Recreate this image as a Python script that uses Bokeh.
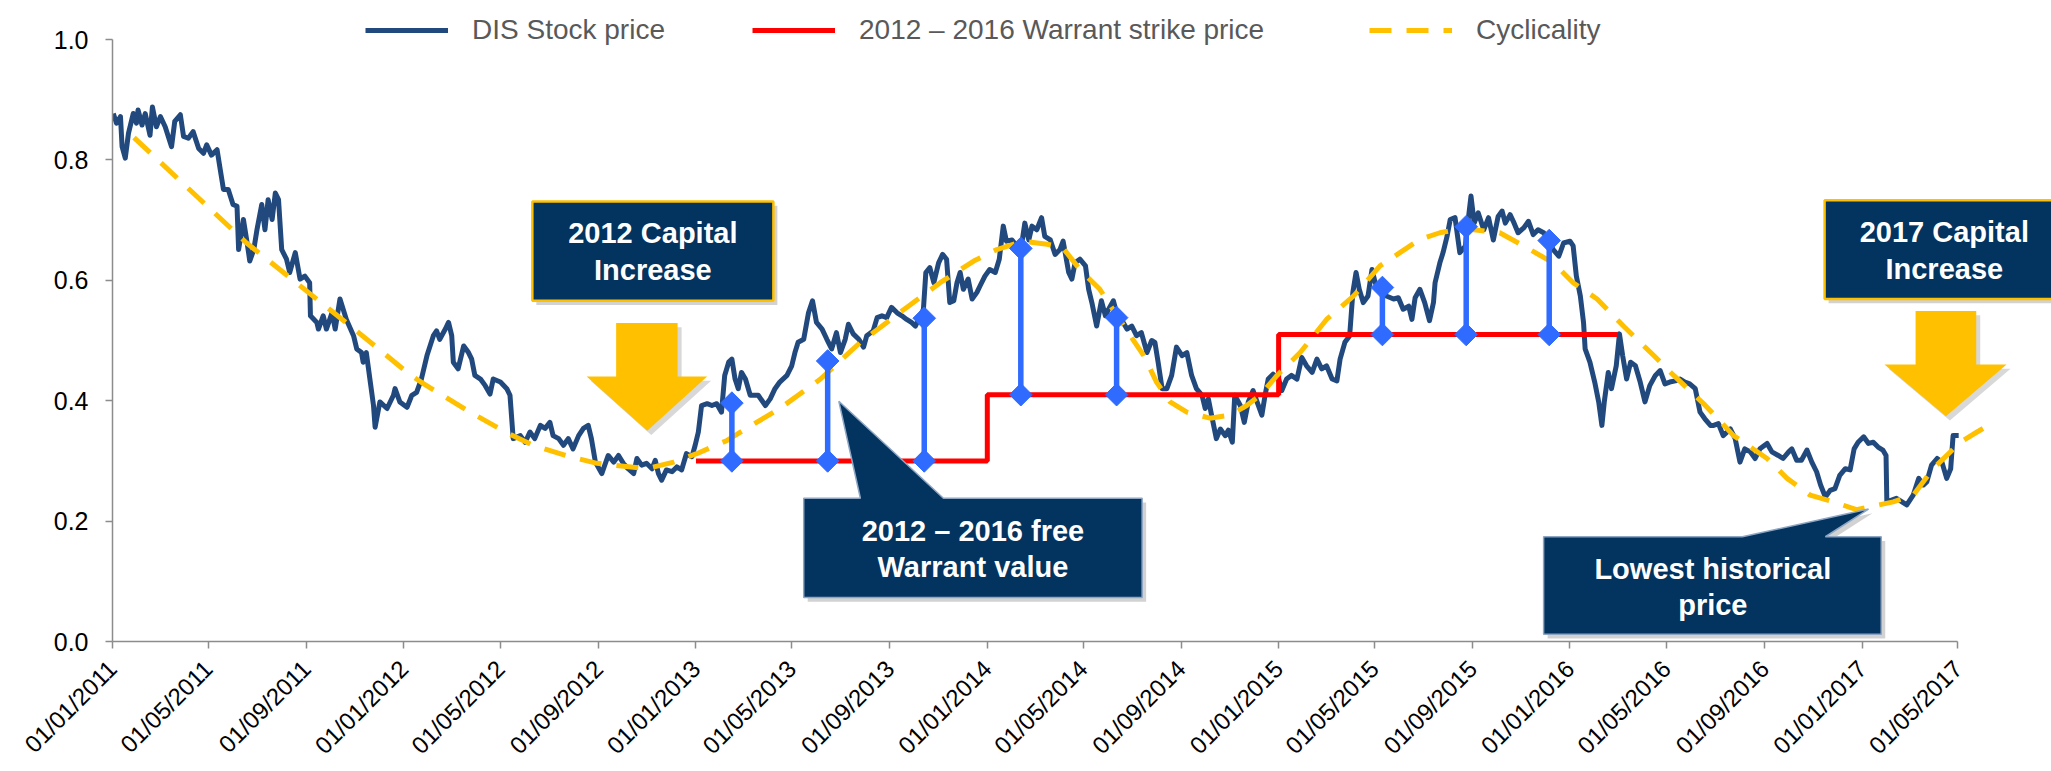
import datetime as dt
import numpy as np
from bokeh.plotting import figure
from bokeh.models import (Range1d, FixedTicker, DatetimeTickFormatter,
                          NumeralTickFormatter, Legend, LegendItem)
from bokeh.embed import file_html
from bokeh.resources import INLINE
from bokeh.core.properties import value

START = dt.datetime(2011, 1, 1)

# ---------------- data ----------------
# DIS stock price: days since 01/01/2011 and price
price_day = [1, 5, 10, 12, 16, 20, 26, 30, 32, 37, 41, 47, 50, 55, 60, 66, 74, 78, 85, 89,
             95, 101, 108, 114, 118, 124, 131, 135, 139, 145, 151, 156, 158, 164, 168, 172, 177, 181, 187, 191,
             195, 200, 204, 208, 212, 218, 222, 229, 235, 241, 247, 248, 256, 258, 264, 268, 275, 279, 285, 293,
             302, 306, 312, 314, 318, 323, 327, 329, 335, 344, 352, 354, 360, 369, 375, 381, 387,
             394, 402, 406, 410, 417, 421, 425, 427, 433, 440, 446, 450, 454, 461, 467, 473, 477, 486, 494,
             498, 502, 511, 517, 523, 529, 536, 542, 548, 552, 559, 565, 571, 577, 584, 590, 596, 600, 605,
             613, 621, 628, 634, 640, 646, 653, 657, 663, 669, 676, 680, 684, 688, 694, 701, 707, 713, 719,
             726, 730, 734, 738, 745, 751, 757, 763, 767, 772, 776, 780, 784, 788, 793, 799,
             809, 818, 824, 830, 836, 845, 851, 855, 859, 866, 872, 877, 882, 889, 895, 901, 907, 912, 918,
             922, 928, 935, 941, 945, 953, 958, 964, 970, 976, 983, 989, 995, 1001, 1006, 1012, 1016, 1019,
             1024, 1029, 1035, 1040, 1045, 1049, 1054, 1058, 1062, 1066, 1072, 1077, 1083, 1087, 1093, 1099,
             1106, 1111, 1116, 1120, 1127, 1133, 1139, 1143, 1148, 1152, 1158, 1164, 1168, 1175, 1181, 1187,
             1191, 1198,
             1202, 1206, 1212, 1219, 1223, 1227, 1233, 1239, 1244, 1248, 1254, 1258, 1264, 1271, 1277, 1283,
             1289, 1296, 1302, 1306, 1310, 1315, 1321, 1327, 1333, 1340, 1346, 1352, 1358, 1365, 1369, 1373,
             1377, 1383, 1388, 1394, 1398, 1403, 1406, 1413, 1418, 1423, 1429, 1434, 1440, 1444, 1448, 1454,
             1461, 1465, 1471, 1477, 1484, 1490, 1496, 1503, 1509, 1515, 1521, 1528, 1534, 1538, 1544, 1550,
             1554, 1558, 1562, 1567, 1573, 1578, 1582, 1588, 1594,
             1596, 1605, 1611, 1617, 1624, 1628, 1632, 1638, 1644, 1650, 1655, 1657, 1663, 1667, 1672, 1676,
             1682, 1688, 1695, 1699, 1702, 1706, 1711, 1718, 1724, 1730, 1736, 1741, 1745, 1751, 1755, 1761,
             1768, 1774, 1780, 1786, 1793, 1799, 1805, 1812, 1818, 1826, 1830, 1834, 1839, 1843, 1845, 1851,
             1857, 1862, 1866, 1869, 1874, 1878, 1884, 1888, 1892, 1897, 1902, 1908, 1914, 1920, 1926, 1933,
             1939, 1945, 1951, 1958, 1964, 1970, 1976, 1983, 1989, 1995, 2002,
             2006, 2012, 2018, 2027, 2033, 2039, 2045, 2052, 2058, 2064, 2073, 2079, 2087, 2093, 2100, 2104,
             2110, 2116, 2123, 2129, 2135, 2140, 2146, 2152, 2158, 2164, 2171, 2177, 2182, 2187, 2194, 2200,
             2206, 2212, 2218, 2222, 2223, 2229, 2235, 2242, 2248, 2256, 2263, 2269, 2273, 2279, 2286, 2292,
             2298, 2303, 2306, 2313]
price_value = [0.877, 0.861, 0.872, 0.822, 0.803, 0.844, 0.877, 0.861, 0.883, 0.858, 0.877, 0.841, 0.888, 0.855, 0.872, 0.855, 0.822, 0.864, 0.875, 0.839,
               0.836, 0.847, 0.819, 0.811, 0.825, 0.808, 0.817, 0.784, 0.751, 0.751, 0.726, 0.723, 0.651, 0.701, 0.668, 0.632, 0.651, 0.684, 0.726, 0.684,
               0.734, 0.701, 0.745, 0.734, 0.651, 0.635, 0.613, 0.646, 0.602, 0.607, 0.596, 0.541, 0.530, 0.519, 0.541, 0.519, 0.546, 0.519, 0.569, 0.535,
               0.508, 0.486, 0.480, 0.464, 0.480, 0.431, 0.392, 0.356, 0.398, 0.387, 0.409, 0.420, 0.398, 0.389, 0.409, 0.414, 0.436,
               0.475, 0.508, 0.516, 0.502, 0.519, 0.530, 0.508, 0.464, 0.453, 0.491, 0.480, 0.469, 0.442, 0.436, 0.425, 0.411, 0.436, 0.431, 0.420,
               0.409, 0.337, 0.342, 0.331, 0.348, 0.337, 0.359, 0.354, 0.364, 0.342, 0.337, 0.326, 0.337, 0.320, 0.342, 0.354, 0.359, 0.337, 0.298,
               0.279, 0.309, 0.298, 0.309, 0.296, 0.287, 0.279, 0.304, 0.293, 0.296, 0.287, 0.301, 0.279, 0.268, 0.285, 0.282, 0.290, 0.285, 0.312,
               0.307, 0.326, 0.348, 0.392, 0.395, 0.392, 0.395, 0.381, 0.442, 0.464, 0.469, 0.436, 0.420, 0.447, 0.436, 0.409,
               0.409, 0.392, 0.403, 0.420, 0.431, 0.442, 0.458, 0.480, 0.497, 0.502, 0.546, 0.566, 0.530, 0.519, 0.502, 0.486, 0.513, 0.480, 0.502,
               0.527, 0.511, 0.502, 0.489, 0.508, 0.516, 0.538, 0.541, 0.538, 0.555, 0.546, 0.541, 0.535, 0.530, 0.524, 0.541, 0.552, 0.613,
               0.621, 0.596, 0.629, 0.643, 0.635, 0.563, 0.566, 0.596, 0.613, 0.585, 0.602, 0.569, 0.580, 0.591, 0.607, 0.618,
               0.613, 0.635, 0.690, 0.665, 0.667, 0.657, 0.659, 0.695, 0.667, 0.690, 0.684, 0.704, 0.673, 0.667, 0.643, 0.651,
               0.665, 0.613,
               0.602, 0.629, 0.635, 0.624, 0.585, 0.563, 0.524, 0.566, 0.541, 0.552, 0.566, 0.546, 0.535, 0.519, 0.524, 0.508,
               0.513, 0.480, 0.500, 0.497, 0.464, 0.420, 0.420, 0.442, 0.489, 0.475, 0.480, 0.442, 0.420, 0.409, 0.387, 0.403,
               0.376, 0.337, 0.353, 0.342, 0.351, 0.331, 0.409, 0.392, 0.364, 0.398, 0.417, 0.398, 0.376, 0.409, 0.436, 0.444,
               0.436, 0.417, 0.436, 0.442, 0.436, 0.472, 0.458, 0.447, 0.469, 0.453, 0.458, 0.436, 0.433, 0.469, 0.497, 0.508,
               0.580, 0.613, 0.585, 0.563, 0.574, 0.618, 0.596, 0.585, 0.582,
               0.574, 0.569, 0.571, 0.552, 0.557, 0.535, 0.571, 0.585, 0.563, 0.533, 0.563, 0.596, 0.629, 0.646, 0.673, 0.701,
               0.704, 0.646, 0.657, 0.706, 0.740, 0.695, 0.712, 0.684, 0.704, 0.667, 0.706, 0.715, 0.695, 0.709, 0.698, 0.679,
               0.687, 0.698, 0.676, 0.684, 0.679, 0.667, 0.651, 0.640, 0.662, 0.665, 0.657, 0.607, 0.574, 0.530, 0.486, 0.464,
               0.431, 0.398, 0.359, 0.398, 0.447, 0.420, 0.458, 0.511, 0.475, 0.436, 0.464, 0.458, 0.431, 0.398, 0.425, 0.442,
               0.450, 0.428, 0.431, 0.433, 0.436, 0.431, 0.428, 0.420, 0.381, 0.370, 0.359,
               0.359, 0.362, 0.342, 0.353, 0.337, 0.298, 0.320, 0.315, 0.304, 0.320, 0.329, 0.315, 0.309, 0.304, 0.315, 0.320,
               0.301, 0.301, 0.318, 0.298, 0.282, 0.260, 0.240, 0.251, 0.254, 0.276, 0.287, 0.285, 0.320, 0.331, 0.340, 0.329,
               0.331, 0.323, 0.318, 0.309, 0.232, 0.235, 0.238, 0.232, 0.227, 0.243, 0.271, 0.260, 0.265, 0.293, 0.304, 0.298,
               0.271, 0.287, 0.342, 0.342]

# Cyclicality (dashed trend curve): days since 01/01/2011 and level
cycle_day = [27, 168, 300, 373, 390, 448, 494, 527, 573, 607, 669, 703, 732, 770, 792, 836, 887, 937,
             995, 1037, 1079, 1108, 1141, 1171, 1190, 1212, 1237, 1267, 1292, 1308, 1325, 1346, 1375, 1400,
             1421, 1438, 1459, 1488, 1521, 1555, 1588, 1613, 1638, 1663, 1692, 1738, 1768, 1805, 1830, 1860,
             1893, 1931, 1956, 1995, 2031, 2073, 2098, 2127, 2156, 2185, 2231, 2256, 2281, 2315, 2336, 2354]
cycle_value = [0.837, 0.662, 0.522, 0.443, 0.428, 0.381, 0.347, 0.326, 0.307, 0.296, 0.287, 0.298, 0.312, 0.334, 0.352, 0.387, 0.436, 0.497,
               0.555, 0.596, 0.632, 0.651, 0.665, 0.660, 0.655, 0.618, 0.585, 0.524, 0.475, 0.431, 0.398, 0.381, 0.371, 0.376,
               0.392, 0.409, 0.442, 0.480, 0.535, 0.574, 0.624, 0.646, 0.668, 0.679, 0.686, 0.679, 0.657, 0.629, 0.596, 0.569,
               0.524, 0.475, 0.442, 0.393, 0.342, 0.304, 0.271, 0.243, 0.232, 0.219, 0.232, 0.243, 0.287, 0.331, 0.348, 0.362]

# 2012 - 2016 warrant strike price (step changes)
strike_dates = ["2013-01-01", "2014-01-01", "2015-01-01", "2016-03-01"]
strike_values = [0.30, 0.41, 0.51, 0.51]

# free warrant value (vertical double-diamond bars)
warrant_dates = ["2013-02-15", "2013-06-15", "2013-10-14", "2014-02-12", "2014-06-12",
                 "2015-05-11", "2015-08-24", "2015-12-06"]
warrant_low = [0.30, 0.30, 0.30, 0.41, 0.41, 0.51, 0.51, 0.51]
warrant_high = [0.396, 0.466, 0.537, 0.653, 0.538, 0.588, 0.689, 0.666]

tick_dates = ["2011-01-01", "2011-05-01", "2011-09-01", "2012-01-01", "2012-05-01", "2012-09-01",
              "2013-01-01", "2013-05-01", "2013-09-01", "2014-01-01", "2014-05-01", "2014-09-01",
              "2015-01-01", "2015-05-01", "2015-09-01", "2016-01-01", "2016-05-01", "2016-09-01",
              "2017-01-01", "2017-05-01"]
y_ticks = [0.0, 0.2, 0.4, 0.6, 0.8, 1.0]
legend_labels = ["DIS Stock price", "2012 \u2013 2016 Warrant strike price", "Cyclicality"]
box_texts = {
    "cap2012": ["2012 Capital", "Increase"],
    "cap2017": ["2017 Capital", "Increase"],
    "warrant": ["2012 \u2013 2016 free", "Warrant value"],
    "lowest": ["Lowest historical", "price"],
}

# ---------------- helpers ----------------
def D(days):
    return START + dt.timedelta(days=days)

def P(s):
    return dt.datetime.strptime(s, "%Y-%m-%d")

def ms(d):
    return (d - dt.datetime(1970, 1, 1)).total_seconds() * 1000.0

FONT = "Liberation Sans"
NAVY = "#03335f"
GOLD = "#ffc000"

p = figure(width=2051, height=771, x_axis_type="datetime",
           output_backend="svg", toolbar_location=None,
           min_border_left=112, min_border_right=0, min_border_top=0, min_border_bottom=127,
           x_range=Range1d(ms(START), ms(D(2429.3))),
           y_range=Range1d(0, 1.0648))
p.outline_line_color = None
p.xgrid.visible = False
p.ygrid.visible = False
p.background_fill_color = "white"
p.border_fill_color = "white"

# axes
for ax in (p.xaxis[0], p.yaxis[0]):
    ax.axis_line_color = "#8c8c8c"
    ax.axis_line_width = 1.5
    ax.major_tick_line_color = "#8c8c8c"
    ax.major_tick_line_width = 1.5
    ax.major_tick_out = 7
    ax.major_tick_in = 0
    ax.minor_tick_out = 0
    ax.minor_tick_in = 0
    ax.major_label_text_font = FONT
    ax.major_label_text_color = "#000000"

p.xaxis.major_label_text_font_size = "24px"
p.yaxis.major_label_text_font_size = "25px"

p.xaxis.ticker = FixedTicker(ticks=[ms(P(t)) for t in tick_dates])
fmt = "%d/%m/%Y"
p.xaxis.formatter = DatetimeTickFormatter(days=fmt, months=fmt, years=fmt, hours=fmt,
                                          hourmin=fmt, minutes=fmt, minsec=fmt, seconds=fmt,
                                          milliseconds=fmt, microseconds=fmt)
p.xaxis.major_label_orientation = np.pi / 4
p.xaxis.major_label_standoff = 16
p.xaxis.bounds = (ms(P(tick_dates[0])), ms(P(tick_dates[-1])))

p.yaxis.ticker = FixedTicker(ticks=y_ticks)
p.yaxis.formatter = NumeralTickFormatter(format="0.0")
p.yaxis.major_label_standoff = 17
p.yaxis.bounds = (0, 1)

# ---------------- data marks ----------------
price_x = [D(d) for d in price_day]
r_price = p.line(price_x, price_value, line_color="#21497e", line_width=5, line_join="round")

strike_x = [P(s) for s in strike_dates]
r_strike = p.step(strike_x, strike_values, mode="after", line_color="#ff0000", line_width=5)

cycle_x = [D(d) for d in cycle_day]
r_cycle = p.line(cycle_x, cycle_value, line_color=GOLD, line_width=5, line_dash="22 15")

warrant_x = [P(s) for s in warrant_dates]
p.segment(x0=warrant_x, y0=warrant_low, x1=warrant_x, y1=warrant_high,
          line_color="#2f6bff", line_width=5.5)
p.scatter(warrant_x + warrant_x, warrant_low + warrant_high, marker="square", angle=np.pi / 4,
          size=16, fill_color="#2f6bff", line_color="#2f6bff")

# ---------------- annotations (boxes / arrows / callouts) ----------------
SDX, SDY = 5, 0.007   # shadow offset in data units (~4px)

def shadowed_quad(l, r, t, b, fill, line, lw):
    p.quad(left=[D(l + SDX)], right=[D(r + SDX)], top=[t - SDY], bottom=[b - SDY],
           fill_color="#7f7f7f", fill_alpha=0.35, line_color=None)
    p.quad(left=[D(l)], right=[D(r)], top=[t], bottom=[b],
           fill_color=fill, line_color=line, line_width=lw)

def down_arrow(sl, sr, top, head_y, hl, hr, tip_x, tip_y):
    xs = [sl, sr, sr, hr, tip_x, hl, sl]
    ys = [top, top, head_y, head_y, tip_y, head_y, head_y]
    p.patch([D(x + SDX) for x in xs], [y - SDY for y in ys], fill_color="#7f7f7f",
            fill_alpha=0.3, line_color=None)
    p.patch([D(x) for x in xs], ys, fill_color=GOLD, line_color=None)

def callout(l, r, t, b, b1, b2, tip_x, tip_y):
    xs = [l, l, b1, tip_x, b2, r, r]
    ys = [b, t, t, tip_y, t, t, b]
    p.patch([D(x + SDX) for x in xs], [y - SDY for y in ys], fill_color="#7f7f7f",
            fill_alpha=0.35, line_color=None)
    p.patch([D(x) for x in xs], ys, fill_color=NAVY, line_color="#8ea6c4", line_width=1.5)

def two_lines(xc, y1, y2, lines):
    p.text(x=[D(xc), D(xc)], y=[y1, y2], text=lines, text_color="white",
           text_font=value(FONT), text_font_style="bold", text_font_size="29px",
           text_align="center", text_baseline="middle")

# 2012 capital increase
shadowed_quad(526, 828, 0.731, 0.566, NAVY, GOLD, 2.5)
two_lines(677, 0.679, 0.617, box_texts["cap2012"])
down_arrow(631, 708, 0.529, 0.440, 594, 745, 670, 0.350)

# 2017 capital increase
shadowed_quad(2145, 2446, 0.733, 0.569, NAVY, GOLD, 2.5)
two_lines(2295, 0.681, 0.619, box_texts["cap2017"])
down_arrow(2259, 2335, 0.549, 0.460, 2220, 2373, 2297, 0.374)

# free warrant value callout
callout(866, 1290, 0.238, 0.073, 937, 1041, 910, 0.399)
two_lines(1078, 0.184, 0.124, box_texts["warrant"])

# lowest historical price callout
callout(1793, 2216, 0.174, 0.012, 2042, 2146, 2200, 0.220)
two_lines(2005, 0.121, 0.060, box_texts["lowest"])

# ---------------- legend ----------------
def make_legend(label, rend, x):
    leg = Legend(items=[LegendItem(label=label, renderers=[rend])], location=(x, 595),
                 orientation="horizontal", glyph_width=83, glyph_height=30, label_standoff=24,
                 padding=0, margin=0, border_line_alpha=0, background_fill_alpha=0,
                 label_text_font=FONT, label_text_font_size="28px", label_text_color="#595959")
    p.add_layout(leg)

make_legend(legend_labels[0], r_price, 253)
make_legend(legend_labels[1], r_strike, 640)
make_legend(legend_labels[2], r_cycle, 1257)

open("out.html", "w").write(file_html(p, INLINE))
